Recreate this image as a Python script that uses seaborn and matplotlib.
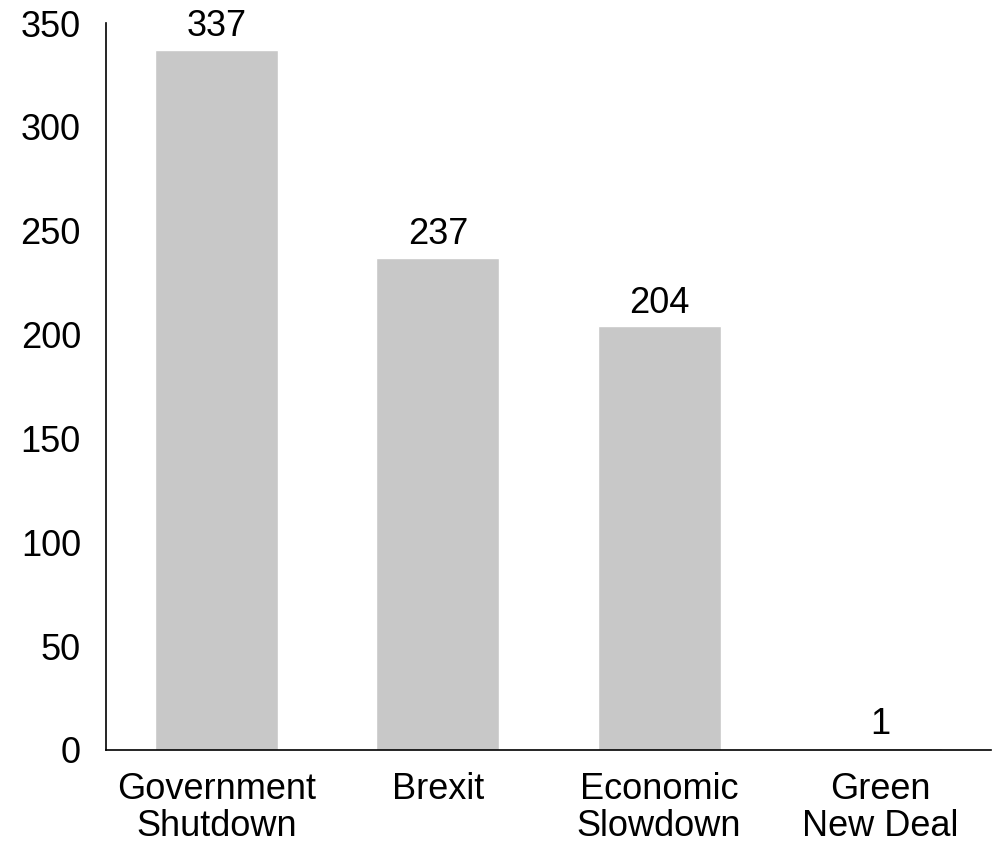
import matplotlib
matplotlib.use("Agg")
import matplotlib.pyplot as plt
import seaborn as sns
import pandas as pd

categories = ["Government\nShutdown", "Brexit", "Economic\nSlowdown", "Green\nNew Deal"]
values = [337, 237, 204, 1]
yticks = [0, 50, 100, 150, 200, 250, 300, 350]

sns.set_theme(style="white")
plt.rcParams["font.family"] = ["Liberation Sans", "DejaVu Sans"]
plt.rcParams["text.color"] = "black"
plt.rcParams["xtick.color"] = "black"
plt.rcParams["ytick.color"] = "black"
plt.rcParams["xtick.labelcolor"] = "black"
plt.rcParams["ytick.labelcolor"] = "black"

df = pd.DataFrame({"topic": categories, "count": values})

fig = plt.figure(figsize=(9.94, 8.46), dpi=100)
ax = fig.add_axes([0.1066, 0.1135, 0.997 - 0.1066, 0.9728 - 0.1135])

sns.barplot(data=df, x="topic", y="count", color="#C8C8C8", saturation=1,
            width=0.556, ax=ax)

for c in ax.containers:
    ax.bar_label(c, labels=[str(v) for v in values], padding=4, fontsize=26,
                 color="black")

ax.set_ylim(0, 350)
ax.set_xlim(-0.5, 3.5)
ax.set_yticks(yticks)
ax.set_yticklabels([str(t) for t in yticks], fontsize=26, color="black")
ax.set_xticks(range(len(categories)))
ax.set_xticklabels(categories, fontsize=26, linespacing=1.05, color="black")
ax.tick_params(axis="y", length=0, pad=18)
ax.tick_params(axis="x", length=0, pad=16)
ax.set_xlabel("")
ax.set_ylabel("")

for s in ["top", "right"]:
    ax.spines[s].set_visible(False)
for s in ["left", "bottom"]:
    ax.spines[s].set_color("black")
    ax.spines[s].set_linewidth(1.2)

fig.savefig("out.png", dpi=100)
